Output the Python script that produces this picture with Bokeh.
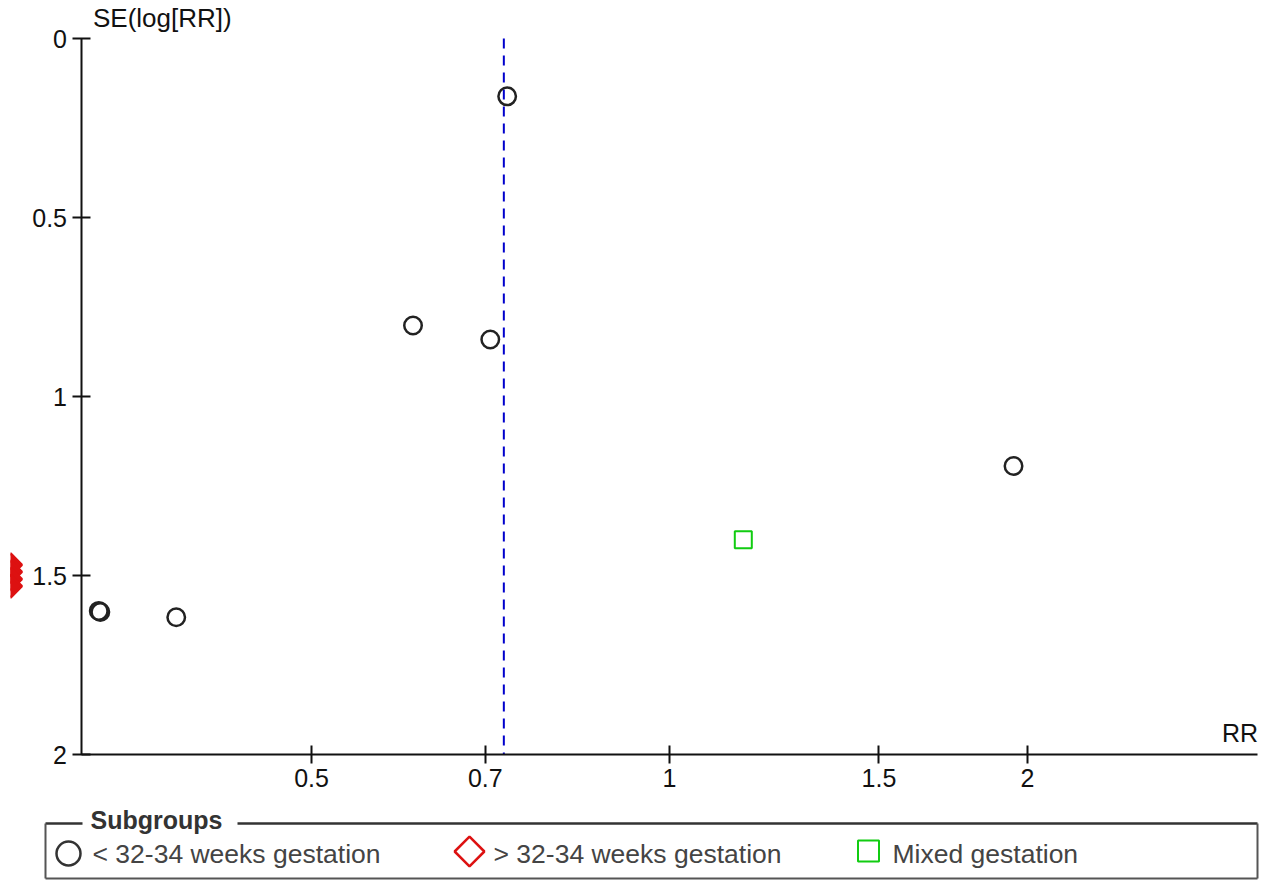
import math
from bokeh.plotting import figure
from bokeh.models import (Range1d, LogScale, LinearScale, LinearAxis, LogAxis,
                          FixedTicker, Label)
from bokeh.core.properties import value
from bokeh.embed import file_html
from bokeh.resources import INLINE

# ---------------- data ----------------
# "< 32-34 weeks gestation" subgroup (circles)
lt_rr = [0.7303, 0.6086, 0.7068, 1.9466, 0.3312, 0.3322, 0.3848]
lt_se = [0.1615, 0.8017, 0.8408, 1.1940, 1.5990, 1.6020, 1.6165]
# "> 32-34 weeks gestation" subgroup (diamonds, beyond the left edge of the axis)
gt_rr = [0.2792, 0.2792, 0.2792, 0.2792]
gt_se = [1.470, 1.490, 1.510, 1.530]
# "Mixed gestation" subgroup (squares)
mixed_rr = [1.1536]
mixed_se = [1.400]
# pooled estimate (dashed line)
pooled_rr = 0.7256
se_max = 2.0

x_ticks = [0.5, 0.7, 1, 1.5, 2]
x_tick_labels = ["0.5", "0.7", "1", "1.5", "2"]
y_ticks = [0, 0.5, 1, 1.5, 2]
y_tick_labels = ["0", "0.5", "1", "1.5", "2"]
x_axis_bounds = (0.32, 3.125)
subgroup_labels = ["< 32-34 weeks gestation", "> 32-34 weeks gestation", "Mixed gestation"]
legend_title = "Subgroups"

# ---------------- layout ----------------
W, H = 1263, 880
BL = 10
frame_left_px = BL
frame_right_px = W
frame_top_px = 0
frame_bot_px = H

# scale: RR=1 at x=669, 516.48 px per ln unit
X1, KX = 669.0, 516.48
# SE=0 at y=38, 358 px per unit
Y0, KY = 38.0, 358.0

x_start = math.exp((frame_left_px - X1) / KX)
x_end = math.exp((frame_right_px - X1) / KX)
y_top = (frame_top_px - Y0) / KY
y_bot = (frame_bot_px - Y0) / KY

FONT = "Liberation Sans"

p = figure(width=W, height=H, output_backend="svg", toolbar_location=None,
           x_axis_type="log", x_axis_location=None, y_axis_location=None,
           x_range=Range1d(x_start, x_end), y_range=Range1d(y_bot, y_top),
           min_border_left=BL, min_border_right=0, min_border_top=0, min_border_bottom=0,
           outline_line_color=None, background_fill_color="white",
           border_fill_color="white")
p.x_scale = LogScale()
p.grid.visible = False

# pixel-coordinate ranges for decorations (legend box)
p.extra_x_ranges = {"px": Range1d(frame_left_px, frame_right_px)}
p.extra_x_scales = {"px": LinearScale()}
p.extra_y_ranges = {"px": Range1d(frame_bot_px, frame_top_px)}
p.extra_y_scales = {"px": LinearScale()}

# ---------------- axes ----------------
yaxis = LinearAxis(fixed_location=x_axis_bounds[0], bounds=(0, se_max),
                   ticker=FixedTicker(ticks=y_ticks),
                   major_label_overrides={t: l for t, l in zip(y_ticks, y_tick_labels)},
                   major_tick_in=9, major_tick_out=9, minor_tick_line_color=None,
                   axis_line_width=2, major_tick_line_width=2,
                   axis_line_color="#111111", major_tick_line_color="#111111",
                   major_label_text_font=FONT, major_label_text_font_size="25px",
                   major_label_text_color="#111111", major_label_standoff=5)
p.add_layout(yaxis, "left")

xaxis = LogAxis(fixed_location=se_max, bounds=x_axis_bounds,
                ticker=FixedTicker(ticks=x_ticks),
                major_label_overrides={t: l for t, l in zip(x_ticks, x_tick_labels)},
                major_tick_in=9, major_tick_out=9, minor_tick_line_color=None,
                axis_line_width=2, major_tick_line_width=2,
                axis_line_color="#111111", major_tick_line_color="#111111",
                major_label_text_font=FONT, major_label_text_font_size="25px",
                major_label_text_color="#111111", major_label_standoff=5)
p.add_layout(xaxis, "below")

p.add_layout(Label(x=x_axis_bounds[0], y=0, x_offset=12, y_offset=21,
                   text="SE(log[RR])", text_font=FONT, text_font_size="26px",
                   text_color="#111111", text_baseline="alphabetic"))
p.add_layout(Label(x=x_axis_bounds[1], y=se_max, x_offset=0, y_offset=22,
                   text="RR", text_font=FONT, text_font_size="25px",
                   text_color="#111111", text_baseline="alphabetic", text_align="right"))

# ---------------- pooled line ----------------
p.segment(x0=[pooled_rr], y0=[0], x1=[pooled_rr], y1=[se_max],
          line_color="#0000cc", line_width=2, line_dash="10 7")

# ---------------- points ----------------
p.scatter(lt_rr, lt_se, marker="circle", size=17.5, fill_color=None,
          line_color="#222222", line_width=2.5)
p.scatter(gt_rr, gt_se, marker="square", angle=math.pi / 4, size=16, fill_color="#dd1111",
          line_color="#dd1111", line_width=2.5)
p.scatter(mixed_rr, mixed_se, marker="square", size=17, fill_color=None,
          line_color="#11cc11", line_width=2)

# ---------------- legend (drawn in pixel coordinates) ----------------
box_l, box_r, box_t, box_b = 45, 1257, 823, 878
gap_l, gap_r = 82, 237
p.segment(x0=[box_l, gap_r], y0=[box_t, box_t], x1=[gap_l, box_r], y1=[box_t, box_t],
          line_color="#333333", line_width=2.5, x_range_name="px", y_range_name="px")
p.segment(x0=[box_l, box_r, box_l], y0=[box_t, box_t, box_b],
          x1=[box_l, box_r, box_r], y1=[box_b, box_b, box_b],
          line_color="#555555", line_width=2, x_range_name="px", y_range_name="px")
p.text(x=[90], y=[819], text=[legend_title], text_font=value(FONT),
       text_font_size=value("25px"), text_font_style="bold", text_color="#333333",
       text_baseline="alphabetic", x_range_name="px", y_range_name="px")

item_x = [68, 469, 868]
p.scatter([item_x[0]], [853], marker="circle", size=24, fill_color=None,
          line_color="#333333", line_width=2.5, x_range_name="px", y_range_name="px")
p.scatter([item_x[1]], [851], marker="square", angle=math.pi / 4, size=21, fill_color=None,
          line_color="#dd1111", line_width=2.5, x_range_name="px", y_range_name="px")
p.scatter([item_x[2]], [850.5], marker="square", size=21, fill_color=None,
          line_color="#11cc11", line_width=2, x_range_name="px", y_range_name="px")
p.text(x=[x + 24 for x in item_x], y=[853] * 3, text=subgroup_labels,
       text_font=value(FONT), text_font_size=value("26.5px"), text_color="#444444",
       text_baseline="alphabetic", x_range_name="px", y_range_name="px")

open("out.html", "w").write(file_html(p, INLINE))
